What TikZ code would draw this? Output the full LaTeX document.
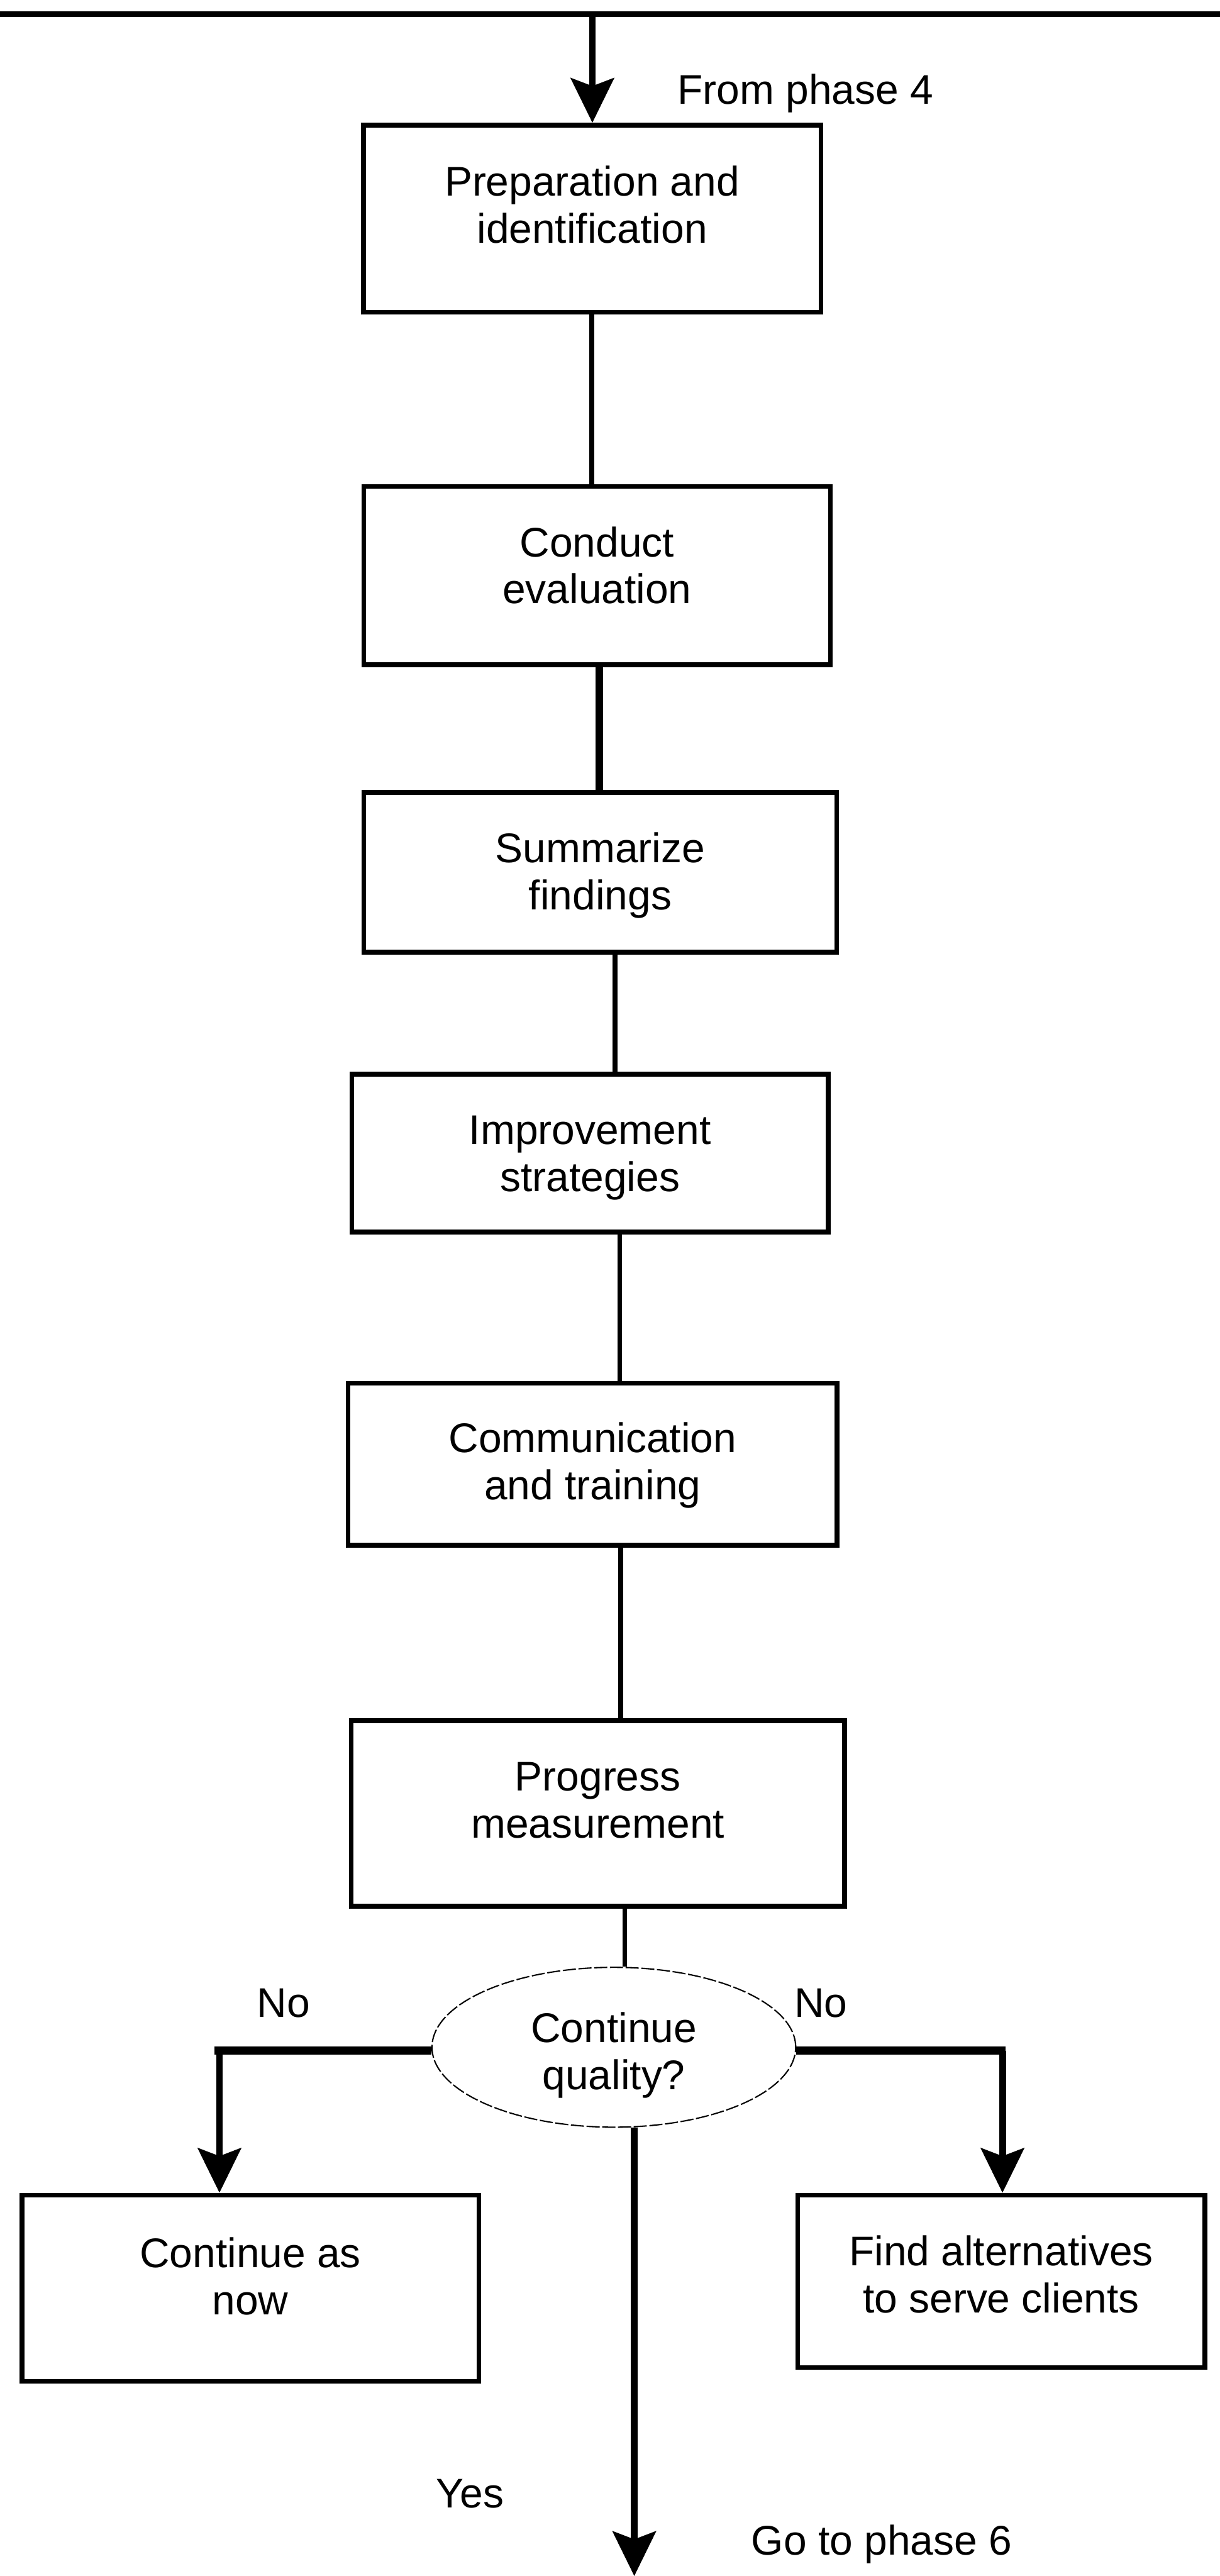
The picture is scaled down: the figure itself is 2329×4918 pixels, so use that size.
\documentclass[tikz,border=0pt]{standalone}
\usepackage{fontspec}
\setmainfont{Liberation Sans}
\usetikzlibrary{arrows.meta,shapes.geometric}
\newcommand{\boxtext}[2]{\raisebox{#1}[0pt][0pt]{\begin{tabular}[t]{@{}c@{}}#2\end{tabular}}}
\begin{document}
\begin{tikzpicture}[x=0.01cm,y=-0.01cm,
  font=\fontsize{22.5}{25.5}\selectfont,
  stepbox/.style={draw=black, line width=0.09cm, rectangle, inner sep=0pt},
  decision/.style={draw=black, ellipse, line width=0.025cm, dash pattern=on 0.25cm off 0.05cm, inner sep=0pt},
  conn/.style={draw=black, line width=0.09cm},
  thickconn/.style={draw=black, line width=0.14cm},
  arrowline/.style={draw=black, line width=0.13cm, -{Stealth[length=0.85cm,width=0.82cm,inset=0.15cm]}},
  hbar/.style={draw=black, line width=0.15cm},
  lbl/.style={inner sep=0pt, anchor=base west}
]
\useasboundingbox (0,0) rectangle (2329,4918);

% boxes
\node[stepbox, minimum width=8.73cm, minimum height=3.57cm] (b1) at (1130.5,417.5) {\boxtext{0.436cm}{Preparation and\\identification}};
\node[stepbox, minimum width=8.90cm, minimum height=3.40cm] (b2) at (1140,1099) {\boxtext{0.361cm}{Conduct\\evaluation}};
\node[stepbox, minimum width=9.02cm, minimum height=3.05cm] (b3) at (1146,1665.5) {\boxtext{0.186cm}{Summarize\\findings}};
\node[stepbox, minimum width=9.09cm, minimum height=3.01cm] (b4) at (1126.5,2201.5) {\boxtext{0.166cm}{Improvement\\strategies}};
\node[stepbox, minimum width=9.33cm, minimum height=3.09cm] (b5) at (1131.5,2795.5) {\boxtext{0.221cm}{Communication\\and training}};
\node[stepbox, minimum width=9.41cm, minimum height=3.54cm] (b6) at (1141.5,3462) {\boxtext{0.426cm}{Progress\\measurement}};
\node[decision, minimum width=6.94cm, minimum height=3.05cm] (ell) at (1172,3908.5) {\boxtext{0.091cm}{Continue\\quality?}};
\node[stepbox, minimum width=8.72cm, minimum height=3.55cm] (bl) at (478,4368.5) {\boxtext{0.396cm}{Continue as\\now}};
\node[stepbox, minimum width=7.77cm, minimum height=3.29cm] (br) at (1911.5,4355.5) {\boxtext{0.301cm}{Find alternatives\\to serve clients}};

% top line and incoming arrow
\coordinate (tl) at (0,27);
\coordinate (tr) at (2329,27);
\draw[line width=0.10cm] (tl) -- (tr);
\coordinate (tin) at (1131,27);
\draw[arrowline] (tin) -- (b1.north -| tin);

% vertical connectors
\coordinate (c12) at (1130,0);
\coordinate (c23) at (1144,0);
\coordinate (c34) at (1174,0);
\coordinate (c45) at (1183,0);
\coordinate (c56) at (1185,0);
\coordinate (c6e) at (1193,0);
\draw[conn] (b1.south -| c12) -- (b2.north -| c12);
\draw[thickconn] (b2.south -| c23) -- (b3.north -| c23);
\draw[conn] (b3.south -| c34) -- (b4.north -| c34);
\draw[conn] (b4.south -| c45) -- (b5.north -| c45);
\draw[conn] (b5.south -| c56) -- (b6.north -| c56);
\draw[conn] (b6.south -| c6e) -- (ell.north -| c6e);

% left branch
\coordinate (lend) at (409,3915);
\coordinate (lc) at (419,3915);
\draw[hbar] (ell.west |- lend) -- (lend);
\draw[arrowline] (lc) -- (bl.north -| lc);

% right branch
\coordinate (rend) at (1920,3915);
\coordinate (rc) at (1914,3915);
\draw[hbar] (ell.east |- rend) -- (rend);
\draw[arrowline] (rc) -- (br.north -| rc);

% yes branch
\coordinate (yx) at (1211,4918);
\draw[arrowline] (ell.south -| yx) -- (yx);

% labels
\node[lbl] (from4) at (1293,199) {From phase 4};
\node[lbl] (nol) at (490,3851) {No};
\node[lbl] (nor) at (1516,3851) {No};
\node[lbl] (yes) at (832,4788) {Yes};
\node[lbl] (go6) at (1434,4878) {Go to phase 6};
\end{tikzpicture}
\end{document}
